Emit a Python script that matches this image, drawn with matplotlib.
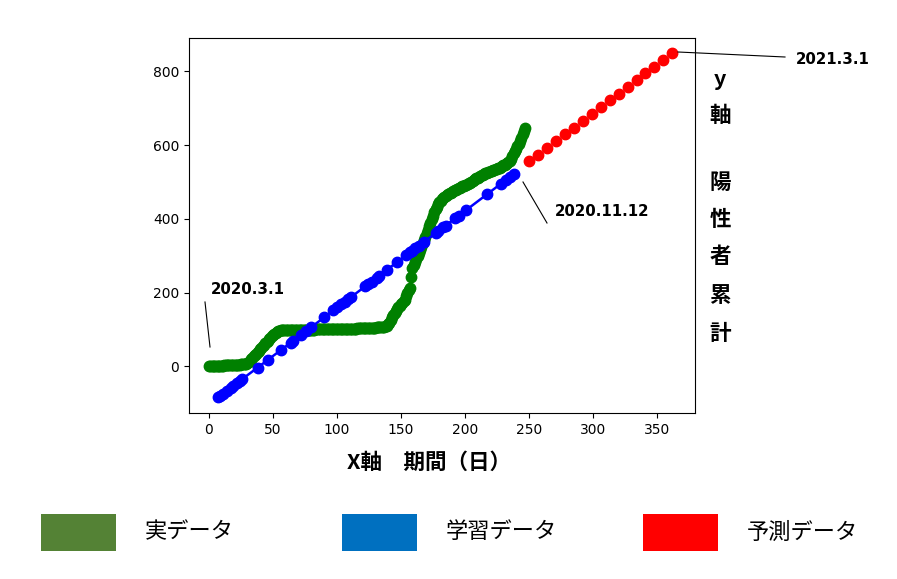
import numpy as np
import matplotlib.pyplot as plt
from matplotlib.patches import Rectangle
from matplotlib.lines import Line2D

plt.rcParams['font.family'] = ['DejaVu Sans', 'Noto Sans CJK JP']
JP = ['Noto Sans CJK JP', 'DejaVu Sans']

# Given
# 実データ (cumulative positives, one value per day from day 0)
actual_y = [
    0, 0, 0, 0, 1, 1, 1, 1, 2, 2, 2, 2, 3, 3, 3, 3, 3, 4, 4, 4,
    4, 5, 5, 5, 5, 6, 6, 6, 7, 7, 9, 12, 16, 20, 24, 28, 31, 35, 39, 43,
    47, 51, 55, 59, 63, 66, 70, 74, 78, 82, 86, 89, 92, 94, 96, 97, 98, 98, 99, 99,
    99, 99, 99, 100, 100, 100, 100, 100, 100, 100, 100, 100, 100, 100, 100, 100, 100, 100, 100, 100,
    100, 100, 100, 101, 101, 101, 101, 101, 101, 101, 101, 101, 101, 101, 101, 101, 101, 101, 101, 101,
    101, 101, 101, 101, 101, 101, 102, 102, 102, 102, 102, 102, 102, 102, 102, 102, 103, 103, 103, 103,
    103, 103, 104, 104, 104, 104, 104, 105, 105, 105, 105, 106, 106, 106, 107, 107, 107, 108, 109, 111,
    114, 118, 125, 133, 140, 145, 150, 156, 161, 165, 169, 173, 177, 181, 190, 198, 207, 212, 243, 268,
    275, 283, 292, 300, 308, 316, 325, 334, 343, 352, 361, 370, 380, 390, 400, 409, 418, 426, 433, 439,
    445, 449, 453, 456, 459, 463, 465, 467, 469, 471, 473, 475, 477, 479, 481, 483, 484, 486, 488, 490,
    491, 493, 494, 496, 497, 500, 502, 505, 507, 510, 512, 514, 516, 518, 520, 521, 523, 524, 526, 527,
    529, 530, 532, 533, 535, 536, 537, 539, 541, 543, 545, 547, 549, 551, 553, 556, 562, 570, 578, 585,
    590, 597, 604, 611, 620, 630, 639, 647,
]
actual_x = list(range(len(actual_y)))

# 学習データ
train_x = [7, 9, 11, 14, 17, 19, 22, 24, 26, 38, 46, 56, 64, 66, 72, 76, 80, 90, 97, 100,
           103, 106, 109, 111, 122, 124, 127, 131, 133, 139, 147, 154, 157, 159, 161, 164, 168,
           177, 179, 183, 185, 192, 195, 201, 217, 228, 232, 235, 238]
train_y = [-84, -79, -74, -66, -58, -53, -45, -40, -34, -3, 18, 44, 65, 70, 86, 97, 107, 133, 152, 160,
           168, 175, 183, 188, 217, 223, 230, 241, 246, 262, 283, 301, 309, 314, 320, 327, 338,
           361, 367, 377, 382, 401, 409, 424, 466, 495, 506, 514, 522]

# 予測データ
pred_x = [250, 257, 264, 271, 278, 285, 292, 299, 306, 313, 320, 327, 334, 341, 348, 355, 362]
pred_y = [556, 574, 592, 611, 629, 647, 666, 684, 702, 721, 739, 757, 776, 794, 812, 831, 849]

legend_labels = ['実データ', '学習データ', '予測データ']
legend_colors = ['#548235', '#0070C0', '#FF0000']
ylabel_chars = ['y', '軸', '陽', '性', '者', '累', '計']
ylabel_rows = [80, 116, 182, 219, 257, 295, 333]

W, H = 897, 579
fig = plt.figure(figsize=(W / 100, H / 100), dpi=100)
ax = fig.add_axes([189 / W, 1 - 413 / H, (695 - 189) / W, (413 - 38) / H])

ax.plot(actual_x, actual_y, 'o', color='green', markersize=7.5)
ax.plot(train_x, train_y, 'o-', color='blue', markersize=7.5, linewidth=1.8)
ax.plot(pred_x, pred_y, 'o', color='red', markersize=7.5)

ax.set_xlim(-15.6, 379.7)
ax.set_ylim(-126, 890)
ax.set_xticks(np.arange(0, 351, 50))
ax.set_yticks(np.arange(0, 801, 200))


def fx(px):
    return px / W


def fy(py):
    return 1 - py / H


# x label
fig.text(fx(429), fy(462), 'X軸　期間（日）', family=JP, fontsize=15.5,
         fontweight='bold', ha='center', va='center')

# y label, one character per row
for ch, row in zip(ylabel_chars, ylabel_rows):
    fig.text(fx(720), fy(row), ch, family=JP, fontsize=15.5,
             fontweight='bold', ha='center', va='center')

# date notes with leader lines
notes = [('2020.3.1', 211, 290, (205, 302), (210, 347)),
         ('2020.11.12', 555, 211, (523, 182), (547, 223)),
         ('2021.3.1', 796, 60, (678, 52), (785, 57))]
for text, tx, ty, p0, p1 in notes:
    fig.text(fx(tx), fy(ty), text, fontsize=10.8, fontweight='bold',
             ha='left', va='center')
    fig.add_artist(Line2D([fx(p0[0]), fx(p1[0])], [fy(p0[1]), fy(p1[1])],
                          color='black', linewidth=0.8))

# legend boxes
for i, (lab, col) in enumerate(zip(legend_labels, legend_colors)):
    left = 41 + 301 * i
    fig.add_artist(Rectangle((fx(left), fy(551)), 75 / W, 37 / H,
                             facecolor=col, edgecolor='none',
                             transform=fig.transFigure))
    fig.text(fx(left + 104), fy(532), lab, family=JP, fontsize=16,
             ha='left', va='center')

fig.savefig('out.png', dpi=100)
